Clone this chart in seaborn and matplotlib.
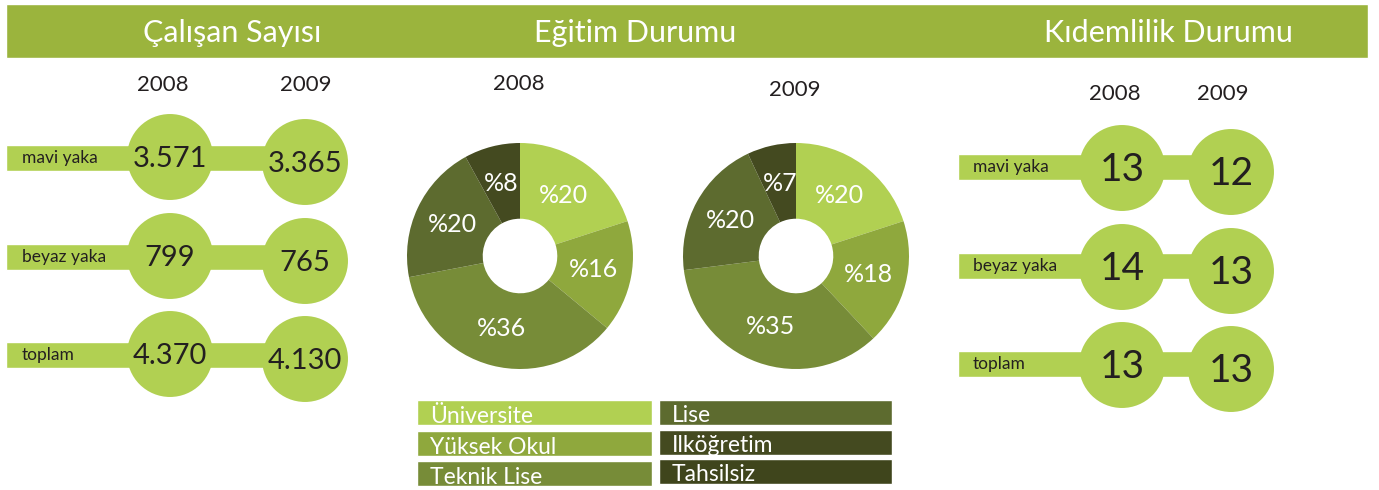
"""
Infographic: employee counts, education breakdown and seniority (2008 vs 2009)
"""

import pandas as pd
import numpy as np
import matplotlib.pyplot as plt
import seaborn as sns

# Data
years = ['2008', '2009']
row_labels = ['mavi yaka', 'beyaz yaka', 'toplam']
employees_2008 = [3571, 799, 4370]
employees_2009 = [3365, 765, 4130]
seniority_2008 = [13, 14, 13]
seniority_2009 = [12, 13, 13]

edu_categories = ['Üniversite', 'Yüksek Okul', 'Teknik Lise', 'Lise', 'Ilköğretim', 'Tahsilsiz']
edu_2008 = [20, 16, 36, 20, 8, 0]
edu_2009 = [20, 18, 35, 20, 7, 0]

section_titles = ['Çalışan Sayısı', 'Eğitim Durumu', 'Kıdemlilik Durumu']

# Styling
BAND = '#9BB43D'
LIGHT = '#B1D052'
TEXT = '#231F20'
EDU_COLORS = ['#B1D052', '#8FA83D', '#778C38', '#5D6B2F', '#444A20', '#3F451C']
W, H = 1379, 490

sns.set_style('white')
plt.rcParams['font.family'] = ['Lato', 'DejaVu Sans']


def fmt_thousands(v):
    return f'{v:,}'.replace(',', '.')


def number_panel(ax, vals_a, vals_b, x_label, x_a, x_b, bar_end, base_y, off_a, off_b,
                 num_size, label_x):
    # horizontal strips behind the circles
    ax.barh(base_y, [bar_end - x_label] * len(base_y), left=x_label, height=26,
            color=LIGHT, zorder=1)
    pts = pd.DataFrame({
        'x': [x_a] * len(base_y) + [x_b] * len(base_y),
        'y': [y + off_a for y in base_y] + [y + off_b for y in base_y],
    })
    sns.scatterplot(data=pts, x='x', y='y', s=3830, color=LIGHT, edgecolor='none',
                    linewidth=0, ax=ax, zorder=2, legend=False)
    for i, lab in enumerate(row_labels):
        ax.text(label_x, base_y[i], lab, fontsize=12.5, color=TEXT, va='center', zorder=3)
        ax.text(x_a, base_y[i] + off_a + 2, vals_a[i], fontsize=num_size, color=TEXT,
                ha='center', va='center', zorder=3)
        ax.text(x_b, base_y[i] + off_b + 2, vals_b[i], fontsize=num_size, color=TEXT,
                ha='center', va='center', zorder=3)


fig = plt.figure(figsize=(W / 100, H / 100), dpi=100)
ax = fig.add_axes([0, 0, 1, 1])
ax.set_xlim(0, W)
ax.set_ylim(H, 0)
ax.axis('off')

# header band
ax.barh([31], [1362], left=6, height=54, color=BAND, zorder=0)
for x, t in zip([232, 635, 1168], section_titles):
    ax.text(x, 33, t, fontsize=22, color='white', ha='center', va='center')

# --- Çalışan Sayısı
ax.text(163, 85, years[0], fontsize=16, color=TEXT, ha='center', va='center')
ax.text(306, 85, years[1], fontsize=16, color=TEXT, ha='center', va='center')
number_panel(ax, [fmt_thousands(v) for v in employees_2008],
             [fmt_thousands(v) for v in employees_2009],
             6, 170, 305, 305, [158, 257, 355], -1, 4, 21, 22)

# --- Kıdemlilik Durumu
ax.text(1115, 94, years[0], fontsize=16, color=TEXT, ha='center', va='center')
ax.text(1223, 94, years[1], fontsize=16, color=TEXT, ha='center', va='center')
number_panel(ax, [str(v) for v in seniority_2008], [str(v) for v in seniority_2009],
             958, 1122, 1231, 1231, [167, 266, 364], 1, 5, 28, 973)

# --- Eğitim Durumu (donuts)
ax.text(519, 84, years[0], fontsize=16, color=TEXT, ha='center', va='center')
ax.text(795, 90, years[1], fontsize=16, color=TEXT, ha='center', va='center')

R = 113
for cx, cy, vals in [(520, 256, edu_2008), (796, 256, edu_2009)]:
    pax = fig.add_axes([(cx - R) / W, 1 - (cy + R) / H, 2 * R / W, 2 * R / H])
    pax.pie(vals, colors=EDU_COLORS, startangle=90, counterclock=False,
            autopct=lambda p: f'%{p:.0f}' if p >= 0.5 else '', pctdistance=0.66,
            wedgeprops=dict(width=0.67, edgecolor='none'),
            textprops=dict(color='white', fontsize=18))
    pax.set_xlim(-1, 1)
    pax.set_ylim(-1, 1)
    pax.axis('off')

# legend boxes
legend_x = [417, 417, 417, 659, 659, 659]
legend_y = [412.5, 443.5, 473.5, 412, 442, 471]
legend_w = [235, 235, 235, 233, 233, 233]
ax.barh(legend_y, legend_w, left=legend_x, height=25, color=EDU_COLORS, zorder=1)
for i, name in enumerate(edu_categories):
    ax.text(legend_x[i] + 13, legend_y[i] + 10, name, fontsize=16.5, color='white',
            va='baseline', zorder=2)

fig.savefig('out.png', dpi=100)
